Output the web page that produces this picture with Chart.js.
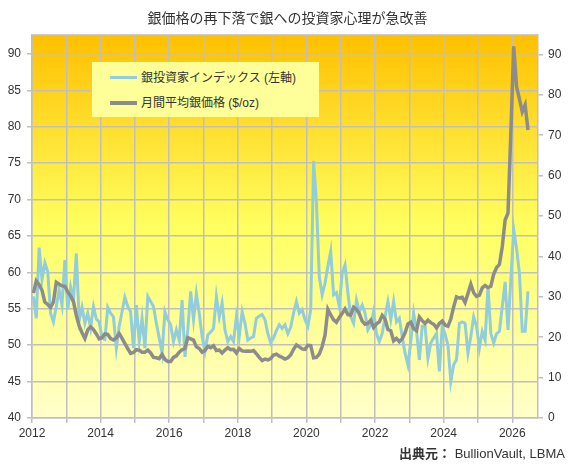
<!DOCTYPE html>
<html>
<head>
<meta charset="utf-8">
<script src="https://cdn.jsdelivr.net/npm/chart.js@4.4.1/dist/chart.umd.min.js"></script>
<style>
html,body{margin:0;padding:0;background:#ffffff;}
#wrap{position:relative;width:569px;height:466px;font-family:'Liberation Sans','Noto Sans CJK JP',sans-serif;color:#333333;}
#c{position:absolute;left:0;top:0;}
#title{position:absolute;left:3px;width:569px;top:8px;text-align:center;font-size:14px;line-height:20px;color:#333333;}
#legend{position:absolute;left:92px;top:62px;width:227px;height:55px;background:#FFFF99;font-size:12px;color:#333333;}
.row{position:absolute;left:18px;height:16px;line-height:16px;white-space:nowrap;}
.sw{display:inline-block;width:27px;height:3px;vertical-align:middle;margin-right:4px;position:relative;top:-1px;}
#source{position:absolute;right:4px;top:443px;font-size:13px;color:#333333;white-space:nowrap;}
#source b{font-weight:bold;}
</style>
</head>
<body>
<div id="wrap">
<canvas id="c" width="569" height="466"></canvas>
<div id="title">銀価格の再下落で銀への投資家心理が急改善</div>
<div id="legend">
  <div class="row" style="top:8px;"><span class="sw" style="background:#92CDDC;"></span>銀投資家インデックス (左軸)</div>
  <div class="row" style="top:33px;"><span class="sw" style="background:#8C8C8C;height:3.5px;"></span>月間平均銀価格 ($/oz)</div>
</div>
<div id="source"><b>出典元：</b> BullionVault, LBMA</div>
</div>
<script>
// ---- data (monthly, Jan 2012 - Jun 2026) ----
const startYear = 2012;
const seriesNames = ['銀投資家インデックス (左軸)', '月間平均銀価格 ($/oz)'];
const investorIndex = [
  // 2012
  56.7, 53.7, 63.4, 59.0, 61.3, 60.1, 54.4, 53.2, 55.3, 57.6, 55.5, 61.7,
  // 2013
  54.9, 58.0, 56.2, 62.6, 53.4, 55.2, 53.0, 54.4, 52.4, 55.3, 53.6, 53.2,
  // 2014
  51.0, 50.8, 55.2, 54.4, 53.9, 49.6, 52.6, 54.6, 56.6, 55.3, 54.6, 49.6,
  // 2015
  55.5, 50.5, 53.7, 49.6, 56.7, 56.0, 55.3, 53.0, 51.0, 48.9, 54.6, 53.5,
  // 2016
  52.8, 50.5, 52.1, 50.7, 56.2, 48.4, 52.1, 57.4, 53.5, 57.1, 54.4, 51.2,
  // 2017
  49.1, 51.4, 51.8, 52.3, 56.7, 53.9, 55.8, 52.1, 50.5, 51.2, 50.5, 53.9,
  // 2018
  51.2, 54.6, 53.0, 50.7, 51.0, 51.2, 53.7, 54.0, 54.2, 53.5, 51.6, 50.3,
  // 2019
  51.0, 52.0, 52.8, 52.3, 52.8, 51.6, 52.5, 54.4, 56.0, 54.4, 54.9, 53.5,
  // 2020
  52.6, 54.9, 75.3, 69.5, 59.4, 56.9, 58.5, 60.8, 62.9, 56.9, 57.2, 55.3,
  // 2021
  59.9, 61.0, 57.2, 53.9, 53.0, 56.2, 54.6, 55.5, 54.4, 52.1, 52.8, 54.6,
  // 2022
  51.6, 50.5, 51.6, 53.9, 56.0, 53.5, 56.0, 53.2, 53.7, 51.2, 48.9, 47.3,
  // 2023
  50.5, 54.4, 52.0, 48.0, 52.6, 52.6, 48.2, 50.3, 51.0, 51.6, 46.4, 52.6,
  // 2024
  51.5, 50.0, 45.0, 47.3, 48.0, 53.0, 53.2, 53.0, 48.9, 51.2, 53.9, 52.6,
  // 2025
  49.6, 51.9, 50.7, 58.1, 51.6, 50.3, 51.6, 51.9, 55.3, 58.7, 52.1, 59.0,
  // 2026
  65.9, 63.3, 59.9, 51.9, 51.9, 57.4
];
const silverPrice = [
  // 2012
  30.9, 33.9, 33.0, 31.6, 28.7, 28.1, 27.4, 28.7, 33.6, 33.1, 32.7, 32.6,
  // 2013
  31.2, 30.2, 28.8, 25.4, 22.8, 21.1, 19.7, 21.8, 22.6, 21.9, 20.8, 19.6,
  // 2014
  19.9, 20.8, 20.7, 19.7, 19.3, 19.8, 20.9, 19.7, 18.4, 17.2, 16.0, 16.2,
  // 2015
  16.9, 16.8, 16.3, 16.3, 16.8, 16.1, 15.0, 14.9, 14.7, 15.7, 14.5, 14.0,
  // 2016
  14.0, 15.0, 15.4, 16.3, 16.9, 17.2, 19.9, 19.6, 19.3, 17.6, 17.2, 16.3,
  // 2017
  16.7, 17.7, 17.4, 17.9, 16.7, 16.8, 16.1, 16.8, 17.4, 16.9, 17.0, 16.1,
  // 2018
  17.2, 16.6, 16.5, 16.6, 16.5, 16.7, 15.9, 15.0, 14.2, 14.6, 14.4, 14.7,
  // 2019
  15.6, 15.8, 15.3, 15.0, 14.6, 14.9, 15.6, 17.0, 18.1, 17.6, 17.1, 17.0,
  // 2020
  18.0, 17.9, 14.9, 15.0, 15.8, 17.7, 20.5, 26.9, 25.5, 24.3, 23.7, 24.9,
  // 2021
  25.9, 27.0, 25.6, 25.5, 27.4, 26.9, 25.8, 24.0, 23.2, 23.4, 24.2, 22.4,
  // 2022
  23.3, 23.8, 25.4, 24.5, 21.9, 21.6, 19.1, 19.7, 18.9, 19.6, 21.1, 23.3,
  // 2023
  23.7, 22.1, 21.6, 25.0, 24.1, 23.4, 24.2, 23.6, 23.2, 22.3, 23.4, 24.0,
  // 2024
  23.0, 22.7, 24.5, 27.5, 30.0, 29.7, 29.9, 28.6, 30.8, 33.1, 31.0, 30.1,
  // 2025
  30.4, 32.2, 32.8, 32.3, 32.6, 35.6, 37.2, 38.0, 42.4, 49.0, 50.7, 70.5,
  // 2026
  92.0, 82.0, 79.0, 75.8, 77.5, 71.3
];
const gridYears = [2012, 2013, 2014, 2015, 2016, 2017, 2018, 2019, 2020, 2021, 2022, 2023, 2024, 2025, 2026];
const xTickYears = [2012, 2014, 2016, 2018, 2020, 2022, 2024, 2026];
const leftTicks = [40, 45, 50, 55, 60, 65, 70, 75, 80, 85, 90];
const rightTicks = [0, 10, 20, 30, 40, 50, 60, 70, 80, 90];

// month position (mid-month) on a year axis
const toPoints = arr => arr.map((v, i) => ({ x: startYear + (i + 0.5) / 12, y: v }));

const FONT = "'Liberation Sans','Noto Sans CJK JP',sans-serif";
const GRID = '#BFBFBF';

const bgPlugin = {
  id: 'bg',
  beforeDraw(chart) {
    const { ctx, chartArea: a } = chart;
    const g = ctx.createLinearGradient(0, a.top, 0, a.bottom);
    g.addColorStop(0, '#FFC000');
    g.addColorStop(0.5, '#FFFF60');
    g.addColorStop(1, '#FFFFCC');
    ctx.save();
    ctx.fillStyle = g;
    ctx.fillRect(a.left, a.top, a.right - a.left, a.bottom - a.top);
    ctx.restore();
  },
  afterDraw(chart) {
    const { ctx, chartArea: a } = chart;
    ctx.save();
    ctx.strokeStyle = GRID;
    ctx.lineWidth = 1.5;
    ctx.beginPath();
    ctx.moveTo(a.left, a.top);
    ctx.lineTo(a.right, a.top);
    ctx.stroke();
    ctx.restore();
  }
};

new Chart(document.getElementById('c'), {
  type: 'line',
  data: {
    datasets: [
      { label: seriesNames[0], data: toPoints(investorIndex), yAxisID: 'y',
        borderColor: '#92CDDC', borderWidth: 3, pointRadius: 0, tension: 0, order: 2 },
      { label: seriesNames[1], data: toPoints(silverPrice), yAxisID: 'y2',
        borderColor: '#8C8C8C', borderWidth: 3.5, pointRadius: 0, tension: 0, order: 1 }
    ]
  },
  options: {
    responsive: false,
    animation: false,
    devicePixelRatio: 1,
    layout: { padding: { top: 35, left: 0, right: 0, bottom: 0 } },
    plugins: { legend: { display: false }, title: { display: false }, tooltip: { enabled: false } },
    scales: {
      x: {
        type: 'linear', min: 2012, max: 2026.75,
        afterFit: s => { s.height = 48; },
        afterBuildTicks: s => { s.ticks = gridYears.map(v => ({ value: v })); },
        grid: { color: GRID, lineWidth: 1.5, tickLength: 5, drawTicks: true },
        border: { color: GRID, width: 1.5 },
        ticks: { autoSkip: false, maxRotation: 0, padding: 3, color: '#333333',
          font: { family: FONT, size: 12 },
          callback: v => xTickYears.includes(Math.round(v)) ? String(Math.round(v)) : '' }
      },
      y: {
        position: 'left', min: 40, max: 92.6,
        afterFit: s => { s.width = 32; },
        afterBuildTicks: s => { s.ticks = leftTicks.map(v => ({ value: v })); },
        grid: { color: GRID, lineWidth: 1.5, tickLength: 5 },
        border: { color: GRID, width: 1.5 },
        ticks: { padding: 6, color: '#333333', font: { family: FONT, size: 12 }, callback: v => String(v) }
      },
      y2: {
        position: 'right', min: 0, max: 94.8,
        afterFit: s => { s.width = 31; },
        afterBuildTicks: s => { s.ticks = rightTicks.map(v => ({ value: v })); },
        grid: { color: GRID, lineWidth: 1.5, tickLength: 5, drawOnChartArea: false },
        border: { color: GRID, width: 1.5 },
        ticks: { padding: 5, color: '#333333', font: { family: FONT, size: 12 }, callback: v => String(v) }
      }
    }
  },
  plugins: [bgPlugin]
});
</script>
</body>
</html>
